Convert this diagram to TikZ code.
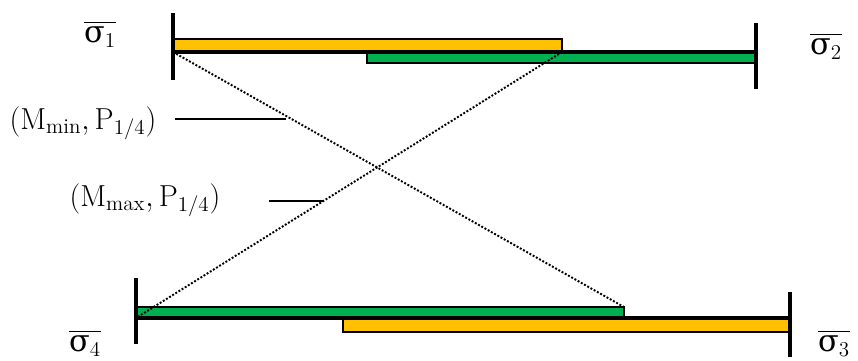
\documentclass[tikz,border=0pt]{standalone}
\usepackage{amsmath}
\usepackage{fontspec}
\newfontfamily\grk{DejaVu Serif}
\usetikzlibrary{positioning,calc}
\definecolor{amber}{HTML}{FFC000}
\definecolor{leaf} {HTML}{00B050}
\newcommand{\sbar}[1]{$\overline{\text{\grk σ}_{#1}}$}
\tikzset{
  % --- bars
  bar/.style   = {draw=black, line width=0.6pt},
  gold/.style  = {bar, fill=amber},
  grn/.style   = {bar, fill=leaf},
  % --- lines
  tick/.style  = {line width=1.8pt},
  base/.style  = {line width=1.8pt},
  dots/.style  = {densely dotted, line width=1.1pt},
  lead/.style  = {line width=0.6pt},
  % --- texts
  lbl/.style   = {font=\LARGE, inner sep=0pt},
}

\begin{document}
\begin{tikzpicture}[x=0.02cm, y=-0.02cm]
  \useasboundingbox (0,0) rectangle (858,360);

  % upper pair
  \coordinate (o1a) at (173,39);  \coordinate (o1b) at (562,52);
  \coordinate (g2a) at (367,52);  \coordinate (g2b) at (756,63);
  \draw[gold] (o1a) rectangle (o1b);
  \draw[grn]  (g2a) rectangle (g2b);
  \draw[base] (o1a |- o1b) -- (g2b |- g2a);
  \draw[tick] (173,13) -- (173,80);
  \draw[tick] (756,23) -- (756,89);

  % lower pair
  \coordinate (g4a) at (136,307); \coordinate (g4b) at (624,318);
  \coordinate (o3a) at (343,318); \coordinate (o3b) at (790,332);
  \draw[grn]  (g4a) rectangle (g4b);
  \draw[gold] (o3a) rectangle (o3b);
  \draw[base] (g4a |- g4b) -- (o3b |- o3a);
  \draw[tick] (136,278) -- (136,344);
  \draw[tick] (790,292) -- (790,357);

  % labels
  \node[lbl] (s1) at (100,34)  {\sbar{1}};
  \node[lbl] (s2) at (826,46)  {\sbar{2}};
  \node[lbl] (s3) at (834,343) {\sbar{3}};
  \node[lbl] (s4) at (85,343)  {\sbar{4}};
  \node[lbl] (mmin) at (83,123)  {$(\mathrm{M}_{\mathrm{min}},\mathrm{P}_{1/4})$};
  \node[lbl] (mmax) at (145,200) {$(\mathrm{M}_{\mathrm{max}},\mathrm{P}_{1/4})$};

  % crossing lines
  \draw[dots] (o1a |- o1b) -- coordinate[pos=0.25] (pmin) (g4b |- g4a);
  \draw[dots] (o1b) -- coordinate[pos=0.562] (pmax) (g4a |- g4b);
  \draw[lead] (mmin.east) ++(18,-4) coordinate (qmin) -- (qmin -| pmin);
  \draw[lead] (mmax.east) ++(48,1) coordinate (qmax) -- (qmax -| pmax);
\end{tikzpicture}
\end{document}
